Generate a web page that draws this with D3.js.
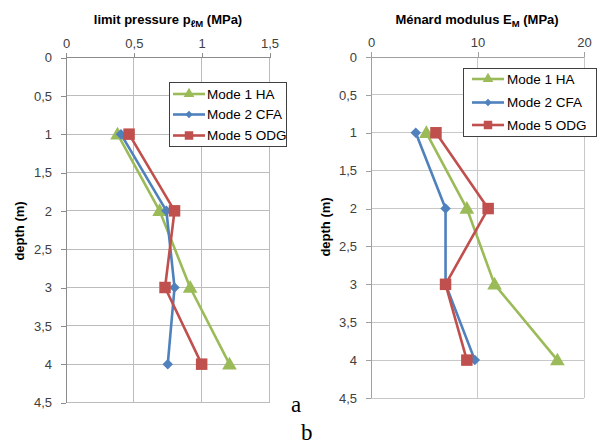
<!DOCTYPE html>
<html>
<head>
<meta charset="utf-8">
<script src="https://cdn.jsdelivr.net/npm/d3@7"></script>
<style>
  body { margin: 0; background: #fff; }
  svg { display: block; }
</style>
</head>
<body>
<svg id="chart" width="599" height="446"></svg>
<script>
// ---- data ----
const depths = [1, 2, 3, 4];
const seriesNames = ["Mode 1 HA", "Mode 2 CFA", "Mode 5 ODG"];
const seriesColors = ["#9BBB59", "#4F81BD", "#C0504D"];
const seriesMarkers = ["triangle", "diamond", "square"];

// limit pressure pℓM (MPa)
const pressureHA  = [0.38, 0.69, 0.915, 1.205];
const pressureCFA = [0.405, 0.74, 0.80, 0.75];
const pressureODG = [0.465, 0.80, 0.73, 1.00];

// Ménard modulus EM (MPa)
const modulusHA  = [5.2, 9.0, 11.6, 17.5];
const modulusCFA = [4.2, 7.0, 7.0, 9.75];
const modulusODG = [6.1, 11.0, 7.0, 9.0];

const depthTicks = [0, 0.5, 1, 1.5, 2, 2.5, 3, 3.5, 4, 4.5];
const pressureTicks = [0, 0.5, 1, 1.5];
const modulusTicks = [0, 10, 20];

const fmt = v => String(v).replace(".", ",");

const svg = d3.select("#chart");
const FONT = "'Liberation Sans', Arial, sans-serif";

function markerPath(type, size) {
  if (type === "triangle") return d3.symbol(d3.symbolTriangle, size * size * 0.55)();
  if (type === "diamond") {
    const s = size / 2;
    return `M0,${-s}L${s},0L0,${s}L${-s},0Z`;
  }
  const s = size / 2;
  return `M${-s},${-s}H${s}V${s}H${-s}Z`;
}

function drawPanel(opts) {
  const g = svg.append("g");
  const x = d3.scaleLinear().domain(opts.xDomain).range(opts.xRange);
  const y = d3.scaleLinear().domain([0, 4.5]).range(opts.yRange);

  // horizontal grid lines
  g.selectAll(".hg").data(depthTicks).join("line")
    .attr("x1", opts.xRange[0]).attr("x2", opts.xRange[1])
    .attr("y1", d => y(d)).attr("y2", d => y(d))
    .attr("stroke", opts.grid).attr("stroke-width", 1).attr("shape-rendering", "crispEdges");
  // vertical grid lines
  g.selectAll(".vg").data(opts.xTicks).join("line")
    .attr("x1", d => x(d)).attr("x2", d => x(d))
    .attr("y1", opts.yRange[0]).attr("y2", opts.yRange[1])
    .attr("stroke", opts.grid).attr("stroke-width", 1).attr("shape-rendering", "crispEdges");

  // top axis (x) with ticks pointing up
  const xAxis = d3.axisTop(x).tickValues(opts.xTicks).tickFormat(fmt).tickSize(5).tickPadding(5);
  const ax = g.append("g").attr("transform", `translate(0,${y(0)})`).call(xAxis);
  // left axis (y)
  const yAxis = d3.axisLeft(y).tickValues(depthTicks).tickFormat(fmt).tickSize(5).tickPadding(9);
  const ay = g.append("g").attr("transform", `translate(${opts.xRange[0]},0)`).call(yAxis);
  [ax, ay].forEach(a => {
    a.select(".domain").attr("stroke", opts.axis).attr("shape-rendering", "crispEdges");
    a.selectAll(".tick line").attr("stroke", opts.axis).attr("shape-rendering", "crispEdges");
    a.selectAll(".tick text").attr("fill", "#404040").style("font-family", FONT).style("font-size", "13px");
  });
  ay.select(".domain").attr("d", `M0,${opts.yRange[0]}V${opts.yRange[1]}`);
  ax.select(".domain").attr("d", `M${opts.xRange[0]},0H${opts.xRange[1]}`);

  // series
  opts.series.forEach((vals, i) => {
    const pts = vals.map((v, k) => [x(v), y(depths[k])]);
    g.append("path").attr("d", d3.line()(pts))
      .attr("fill", "none").attr("stroke", seriesColors[i]).attr("stroke-width", 2.6)
      .attr("stroke-linejoin", "round");
    g.selectAll(".m" + i).data(pts).join("path")
      .attr("transform", p => `translate(${p[0]},${p[1] + (seriesMarkers[i] === "triangle" ? 1 : 0)})`)
      .attr("d", markerPath(seriesMarkers[i], seriesMarkers[i] === "triangle" ? 13 : (seriesMarkers[i] === "diamond" ? 10.5 : 11.5)))
      .attr("fill", seriesColors[i]);
  });

  // title
  const t = g.append("text").attr("x", opts.titleX).attr("y", 24).attr("text-anchor", "middle")
    .style("font-family", FONT).style("font-size", "13px").style("font-weight", "bold").attr("fill", "#000");
  t.append("tspan").text(opts.title[0]);
  t.append("tspan").attr("dy", 3).style("font-size", "9.5px").text(opts.title[1]);
  t.append("tspan").attr("dy", -3).text(opts.title[2]);

  // y title
  g.append("text").attr("transform", `translate(${opts.yTitleX},${opts.yTitleY}) rotate(-90)`)
    .attr("text-anchor", "middle")
    .style("font-family", FONT).style("font-size", "13px").style("font-weight", "bold")
    .text("depth (m)");

  // legend
  const L = opts.legend;
  const lg = g.append("g");
  lg.append("rect").attr("x", L.x).attr("y", L.y).attr("width", L.w).attr("height", L.h)
    .attr("fill", "#fff").attr("stroke", "#404040").attr("stroke-width", 1).attr("shape-rendering", "crispEdges");
  seriesNames.forEach((name, i) => {
    const yy = L.rowY[i];
    lg.append("line").attr("x1", L.lx1).attr("x2", L.lx2).attr("y1", yy).attr("y2", yy)
      .attr("stroke", seriesColors[i]).attr("stroke-width", 2.6);
    lg.append("path").attr("transform", `translate(${(L.lx1 + L.lx2) / 2},${yy})`)
      .attr("d", markerPath(seriesMarkers[i], seriesMarkers[i] === "triangle" ? 9.5 : (seriesMarkers[i] === "diamond" ? 7.5 : 8.5)))
      .attr("fill", seriesColors[i]);
    lg.append("text").attr("x", L.tx).attr("y", yy + 4.5)
      .style("font-family", FONT).style("font-size", "13.5px").attr("fill", "#000").text(name);
  });
}

drawPanel({
  xDomain: [0, 1.5], xRange: [66, 269.5], yRange: [57.5, 402.5],
  xTicks: pressureTicks,
  series: [pressureHA, pressureCFA, pressureODG],
  grid: "#bcbcbc", axis: "#8c8c8c",
  title: ["limit pressure p", "ℓM", " (MPa)"], titleX: 168,
  yTitleX: 24, yTitleY: 231,
  legend: { x: 169.5, y: 82.5, w: 117, h: 64, rowY: [94, 114.5, 135.5], lx1: 173, lx2: 205, tx: 207 }
});

drawPanel({
  xDomain: [0, 20], xRange: [371, 584], yRange: [57, 398],
  xTicks: modulusTicks,
  series: [modulusHA, modulusCFA, modulusODG],
  grid: "#c8c8c8", axis: "#a0a0a0",
  title: ["Ménard modulus E", "M", " (MPa)"], titleX: 477,
  yTitleX: 330, yTitleY: 227,
  legend: { x: 463.5, y: 68.5, w: 133, h: 68, rowY: [79, 102.5, 125], lx1: 472, lx2: 504, tx: 507 }
});

// panel letters
svg.append("text").attr("x", 291).attr("y", 412).style("font-family", "'Liberation Serif', 'Times New Roman', serif")
  .style("font-size", "23px").text("a");
svg.append("text").attr("x", 301).attr("y", 440).style("font-family", "'Liberation Serif', 'Times New Roman', serif")
  .style("font-size", "23px").text("b");
</script>
</body>
</html>
